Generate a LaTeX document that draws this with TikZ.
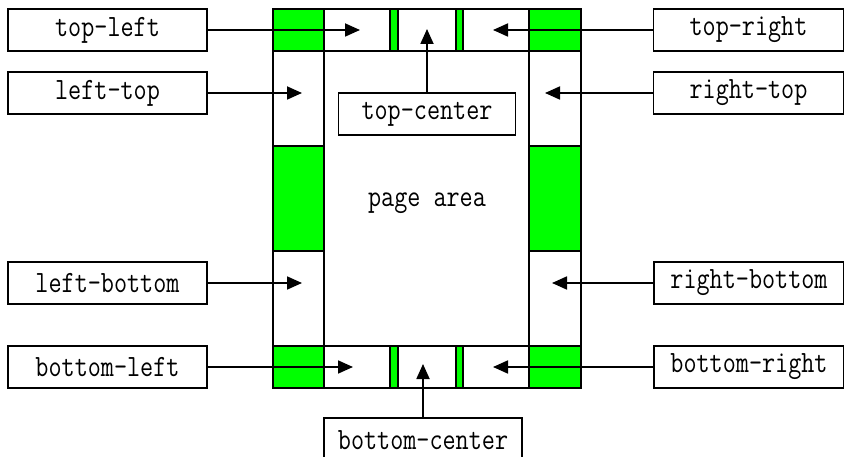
\documentclass[tikz,border=0pt]{standalone}
\usepackage{fontspec}
\newfontfamily\lblfont[FakeStretch=0.82]{Latin Modern Mono}
\usetikzlibrary{arrows.meta}
\definecolor{brightgreen}{RGB}{0,255,0}
\begin{document}
\begin{tikzpicture}[x=1pt,y=-1pt,
  txt/.style={font=\lblfont\fontsize{31}{36}\selectfont},
  lbl/.style={txt,draw=black,line width=1.6pt,fill=white,inner sep=0pt,minimum width=199pt,minimum height=42pt},
  gcell/.style={draw=black,line width=1.6pt,fill=brightgreen},
  wcell/.style={draw=black,line width=1.6pt,fill=white},
  arr/.style={line width=1.8pt,-{Triangle[length=15pt,width=13pt]}}]
\useasboundingbox (0,0) rectangle (844,457);
% page area
\draw[wcell] (324,51) rectangle (529,346);
\node[txt] (page) at (427,203) {page area};
% top row
\draw[gcell] (273,9) rectangle (324,51);
\draw[wcell] (324,9) rectangle (390,51);
\draw[gcell] (390,9) rectangle (398,51);
\draw[wcell] (398,9) rectangle (456,51);
\draw[gcell] (456,9) rectangle (463,51);
\draw[wcell] (463,9) rectangle (529,51);
\draw[gcell] (529,9) rectangle (581,51);
% bottom row
\draw[gcell] (273,346) rectangle (324,388);
\draw[wcell] (324,346) rectangle (390,388);
\draw[gcell] (390,346) rectangle (398,388);
\draw[wcell] (398,346) rectangle (456,388);
\draw[gcell] (456,346) rectangle (463,388);
\draw[wcell] (463,346) rectangle (529,388);
\draw[gcell] (529,346) rectangle (581,388);
% left column
\draw[wcell] (273,51) rectangle (324,146);
\draw[gcell] (273,146) rectangle (324,251);
\draw[wcell] (273,251) rectangle (324,346);
% right column
\draw[wcell] (529,51) rectangle (581,146);
\draw[gcell] (529,146) rectangle (581,251);
\draw[wcell] (529,251) rectangle (581,346);
% label boxes
\node[lbl] (tl) at (107.5,30) {top-left};
\node[lbl] (lt) at (107.5,93) {left-top};
\node[lbl] (lb) at (107.5,283) {left-bottom};
\node[lbl] (bl) at (107.5,367) {bottom-left};
\node[lbl,minimum width=190pt] (tr) at (748.5,30) {top-right};
\node[lbl,minimum width=190pt] (rt) at (748.5,93) {right-top};
\node[lbl,minimum width=190pt] (rb) at (749,283) {right-bottom};
\node[lbl,minimum width=190pt] (br) at (749,367) {bottom-right};
\node[lbl,minimum width=177pt] (tc) at (427,114) {top-center};
\node[lbl,minimum width=198pt,minimum height=44pt] (bc) at (423,440) {bottom-center};
% arrow tips
\coordinate (tlT) at (360,30);
\coordinate (ltT) at (302,93);
\coordinate (lbT) at (302,283);
\coordinate (blT) at (353,367);
\coordinate (trT) at (493,30);
\coordinate (rtT) at (545,93);
\coordinate (rbT) at (552,283);
\coordinate (brT) at (493,367);
\coordinate (tcT) at (427,29);
\coordinate (bcT) at (423,364);
\draw[arr] (tl.east) -- (tlT);
\draw[arr] (lt.east) -- (ltT);
\draw[arr] (lb.east) -- (lbT);
\draw[arr] (bl.east) -- (blT);
\draw[arr] (tr.west) -- (trT);
\draw[arr] (rt.west) -- (rtT);
\draw[arr] (rb.west) -- (rbT);
\draw[arr] (br.west) -- (brT);
\draw[arr] (tc.north) -- (tcT);
\draw[arr] (bc.north) -- (bcT);
\end{tikzpicture}
\end{document}
